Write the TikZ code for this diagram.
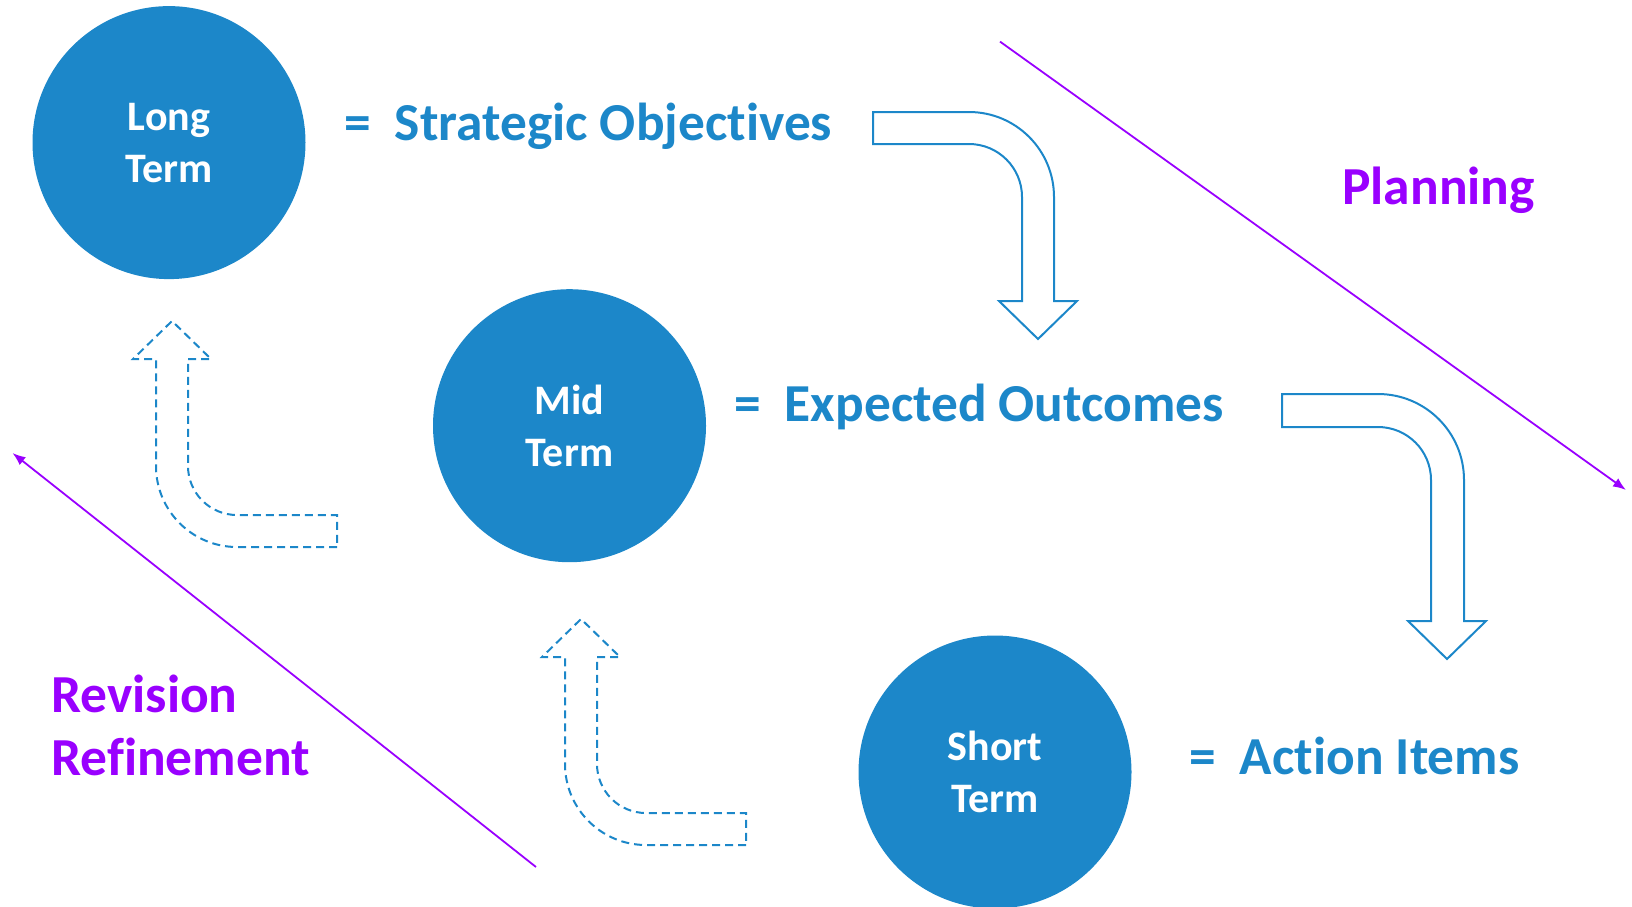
\documentclass[tikz,border=0pt]{standalone}
\usepackage{fontspec}
\setmainfont{Carlito}[Ligatures={NoCommon}]
\usetikzlibrary{arrows.meta}
\definecolor{termblue}{HTML}{1C87C9}
\definecolor{phasepurple}{HTML}{9900FF}
\tikzset{
  term/.style={circle, fill=termblue, minimum size=273pt, inner sep=0pt, text=white, align=center, font=\fontsize{42}{52}\selectfont\bfseries},
  meaning/.style={anchor=base west, inner sep=0pt, text=termblue, font=\fontsize{53.4}{62}\selectfont\bfseries},
  phase/.style={anchor=base west, inner sep=0pt, text=phasepurple, align=left, font=\fontsize{53.5}{63}\selectfont\bfseries},
  bendarrow/.style={draw=termblue, line width=2pt, line join=miter},
  backarrow/.style={bendarrow, dash pattern=on 8pt off 5pt},
  trend/.style={phasepurple, line width=1.8pt, -{Latex[length=13pt,width=10pt]}}
}
\begin{document}
\begin{tikzpicture}[x=1pt,y=-1pt]
    \useasboundingbox (0,0) rectangle (1632,906);
    \node [term] (long) at (169,142.6) {Long\\Term};
    \node [term] (mid) at (569.5,425.7) {Mid\\Term};
    \node [term] (short) at (995,772) {Short\\Term};
    \node [meaning] (strategic) at (344,140) {=\ \ Strategic Objectives};
    \node [meaning] (expected) at (734,421) {=\ \ Expected Outcomes};
    \node [meaning] (action) at (1189,774) {=\ \ Action Items};
    \node [phase] (planning) at (1342,204) {Planning};
    \node [phase] (revision) at (51,775) {Revision\\Refinement};
    % planning: long -> mid -> short
    \draw [bendarrow] (873,112) -- (969,112) arc [start angle=270, end angle=360, radius=85]
        -- (1054,301) -- (1077,301) -- (1038,339) -- (999,301) -- (1022,301)
        -- (1022,197) arc [start angle=0, end angle=-90, radius=53] -- (873,144) -- cycle;
    \draw [bendarrow] (1282,394) -- (1378,394) arc [start angle=270, end angle=360, radius=86]
        -- (1464,621) -- (1486,621) -- (1447,659) -- (1408,621) -- (1431,621)
        -- (1431,480) arc [start angle=0, end angle=-90, radius=53] -- (1282,427) -- cycle;
    % revision: short -> mid -> long
    \draw [backarrow] (337,547) -- (237,547) arc [start angle=90, end angle=180, radius=81]
        -- (156,359) -- (133,359) -- (172,321) -- (211,359) -- (188,359)
        -- (188,466) arc [start angle=180, end angle=90, radius=49] -- (337,515) -- cycle;
    \draw [backarrow] (746,845) -- (646,845) arc [start angle=90, end angle=180, radius=81]
        -- (565,657) -- (542,657) -- (581,619) -- (620,657) -- (597,657)
        -- (597,764) arc [start angle=180, end angle=90, radius=49] -- (746,813) -- cycle;
    \coordinate (plan start) at (1000,41.6);
    \coordinate (plan end) at (1626,490);
    \draw [trend] (plan start) -- (plan end);
    \coordinate (rev start) at (536,867);
    \coordinate (rev end) at (12.5,453);
    \draw [trend] (rev start) -- (rev end);
\end{tikzpicture}
\end{document}
